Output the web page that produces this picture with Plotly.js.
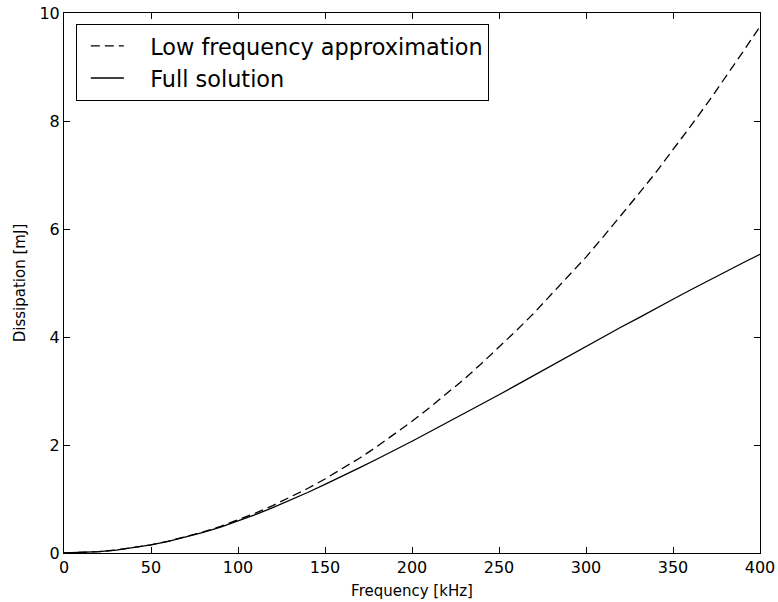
<!DOCTYPE html>
<html>
<head>
<meta charset="utf-8">
<script src="https://cdn.plot.ly/plotly-3.0.1.min.js"></script>
<style>html,body{margin:0;padding:0;background:#fff;}#chart{width:778px;height:602px;}</style>
</head>
<body>
<div id="chart"></div>
<script>
const frequency = [0,10,20,30,40,50,60,70,80,90,100,110,120,130,140,150,160,170,180,190,200,210,220,230,240,250,260,270,280,290,300,310,320,330,340,350,360,370,380,390,400];
const lowFreqApprox = [0,0.006,0.024,0.055,0.098,0.152,0.219,0.299,0.39,0.494,0.61,0.737,0.878,1.03,1.194,1.371,1.56,1.76,1.974,2.20,2.44,2.69,2.95,3.22,3.51,3.81,4.12,4.44,4.78,5.12,5.48,5.86,6.24,6.64,7.04,7.46,7.90,8.34,8.80,9.27,9.75];
const fullSolution = [0,0.006,0.024,0.055,0.097,0.151,0.217,0.294,0.382,0.48,0.59,0.71,0.84,0.975,1.12,1.27,1.42,1.58,1.74,1.90,2.07,2.24,2.41,2.58,2.76,2.93,3.11,3.29,3.47,3.65,3.83,4.00,4.18,4.35,4.53,4.70,4.87,5.04,5.21,5.37,5.53];
const xTicks = [0,50,100,150,200,250,300,350,400];
const yTicks = [0,2,4,6,8,10];
const seriesNames = ['Low frequency approximation', 'Full solution'];

const font = 'DejaVu Sans, sans-serif';
const pad = '\u00a0\u00a0\u00a0';
const traces = [
  {x: frequency, y: lowFreqApprox, name: pad + seriesNames[0], mode: 'lines',
   line: {color: '#000', width: 1.3, dash: '9px,5px'}},
  {x: frequency, y: fullSolution, name: pad + seriesNames[1], mode: 'lines',
   line: {color: '#000', width: 1.3}}
];
const axisCommon = {
  showgrid: false, zeroline: false, showline: true, linecolor: '#000', linewidth: 1,
  mirror: 'ticks', ticks: 'inside', ticklen: 6, tickwidth: 1, tickcolor: '#000',
  tickfont: {family: font, size: 16, color: '#000'}
};
const layout = {
  width: 778, height: 602,
  margin: {l: 64, r: 18, t: 13, b: 49},
  paper_bgcolor: '#fff', plot_bgcolor: '#fff',
  font: {family: font, color: '#000'},
  showlegend: true,
  legend: {x: 0.017, y: 0.98, xanchor: 'left', yanchor: 'top',
    bordercolor: '#000', borderwidth: 1, bgcolor: '#fff',
    indentation: 9, itemwidth: 33, tracegroupgap: 0,
    font: {family: font, size: 22.4, color: '#000'}},
  xaxis: Object.assign({}, axisCommon, {range: [0, 400], tickvals: xTicks, ticktext: xTicks.map(String),
    title: {text: 'Frequency [kHz]', font: {family: font, size: 15, color: '#000'}, standoff: 9}}),
  yaxis: Object.assign({}, axisCommon, {range: [0, 10], tickvals: yTicks, ticktext: yTicks.map(String),
    title: {text: 'Dissipation [mJ]', font: {family: font, size: 15, color: '#000'}, standoff: 10}})
};
Plotly.newPlot('chart', traces, layout, {displayModeBar: false, staticPlot: true});
</script>
</body>
</html>
